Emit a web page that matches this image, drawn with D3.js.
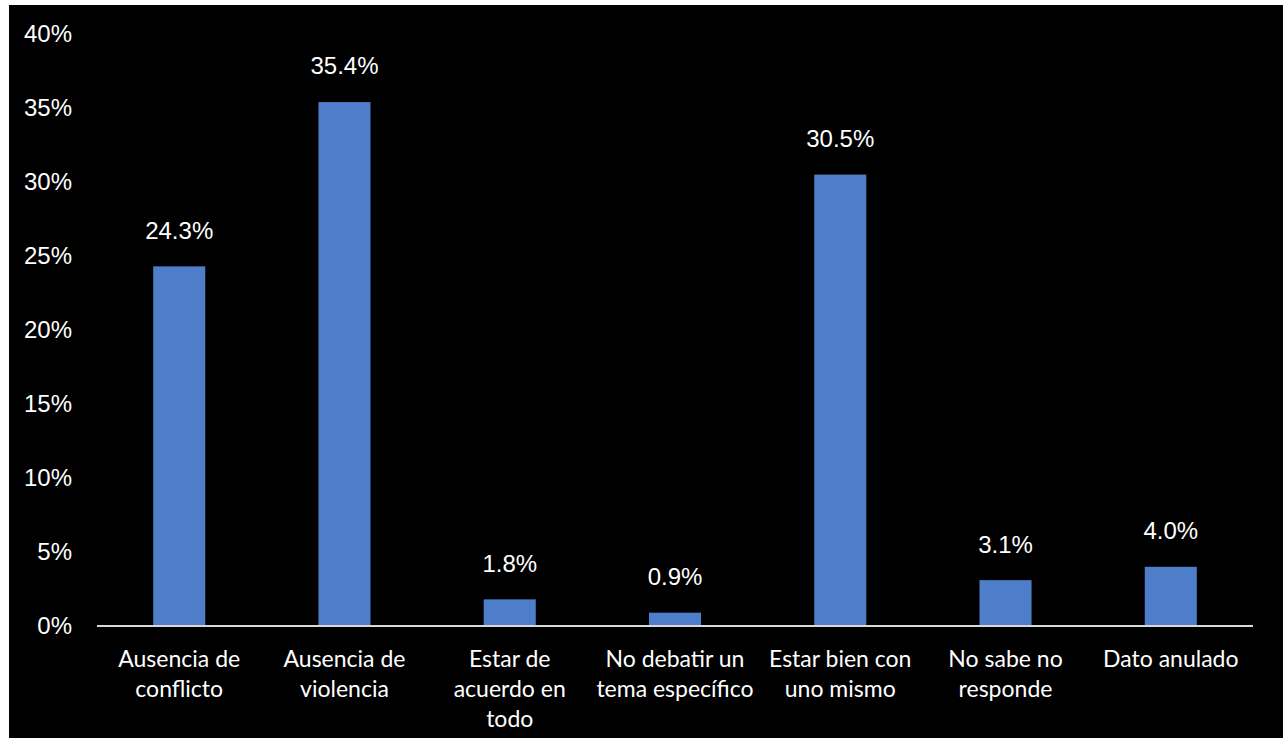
<!DOCTYPE html>
<html>
<head>
<meta charset="utf-8">
<script src="https://cdn.jsdelivr.net/npm/d3@7"></script>
<style>
  body { margin: 0; background: #fff; }
  svg { display: block; }
</style>
</head>
<body>
<svg width="1283" height="738"></svg>
<script>
// datos
const categorias = [
  ["Ausencia de", "conflicto"],
  ["Ausencia de", "violencia"],
  ["Estar de", "acuerdo en", "todo"],
  ["No debatir un", "tema específico"],
  ["Estar bien con", "uno mismo"],
  ["No sabe no", "responde"],
  ["Dato anulado"]
];
const valores = [24.3, 35.4, 1.8, 0.9, 30.5, 3.1, 4.0];
const ticks = [0, 5, 10, 15, 20, 25, 30, 35, 40];

let svg = d3.select("svg"),
  width = +svg.attr("width"),
  height = +svg.attr("height");

// fondo negro con margen blanco arriba/izquierda
svg.append("rect")
  .attr("x", 9).attr("y", 5)
  .attr("width", width - 9).attr("height", height - 5)
  .attr("fill", "#000");

const plotLeft = 97, plotRight = 1253, plotTop = 34, plotBottom = 626;

const x = d3.scaleBand()
  .domain(d3.range(valores.length))
  .range([plotLeft, plotRight])
  .paddingInner(0.685)
  .paddingOuter(0.34);

const y = d3.scaleLinear().domain([0, 40]).range([plotBottom, plotTop]);

// etiquetas eje y
svg.append("g")
  .selectAll("text")
  .data(ticks)
  .enter()
  .append("text")
  .attr("x", 72)
  .attr("y", d => y(d))
  .attr("dy", "0.35em")
  .attr("text-anchor", "end")
  .attr("fill", "#fff")
  .style("font-family", "Liberation Sans, Arial, sans-serif")
  .style("font-size", "24px")
  .text(d => d + "%");

// barras
svg.append("g")
  .selectAll("rect")
  .data(valores)
  .enter()
  .append("rect")
  .attr("x", (d, i) => x(i))
  .attr("y", d => y(d))
  .attr("width", x.bandwidth())
  .attr("height", d => plotBottom - y(d))
  .attr("fill", "#4e7dc9");

// etiquetas de valor
svg.append("g")
  .selectAll("text")
  .data(valores)
  .enter()
  .append("text")
  .attr("x", (d, i) => x(i) + x.bandwidth() / 2)
  .attr("y", d => y(d) - 36)
  .attr("dy", "0.35em")
  .attr("text-anchor", "middle")
  .attr("fill", "#fff")
  .style("font-family", "Liberation Sans, Arial, sans-serif")
  .style("font-size", "24px")
  .text(d => d.toFixed(1) + "%");

// línea del eje x
svg.append("line")
  .attr("x1", plotLeft).attr("x2", plotRight)
  .attr("y1", plotBottom).attr("y2", plotBottom)
  .attr("stroke", "#d9d9d9")
  .attr("stroke-width", 2);

// categorías
const cat = svg.append("g")
  .selectAll("text")
  .data(categorias)
  .enter()
  .append("text")
  .attr("x", (d, i) => x(i) + x.bandwidth() / 2)
  .attr("y", 659)
  .attr("text-anchor", "middle")
  .attr("fill", "#fff")
  .style("font-family", "Lato, 'Open Sans', sans-serif")
  .style("font-size", "23px");

cat.selectAll("tspan")
  .data(d => d)
  .enter()
  .append("tspan")
  .attr("x", function () { return d3.select(this.parentNode).attr("x"); })
  .attr("dy", (d, i) => i === 0 ? "0.35em" : 30)
  .text(d => d);
</script>
</body>
</html>
